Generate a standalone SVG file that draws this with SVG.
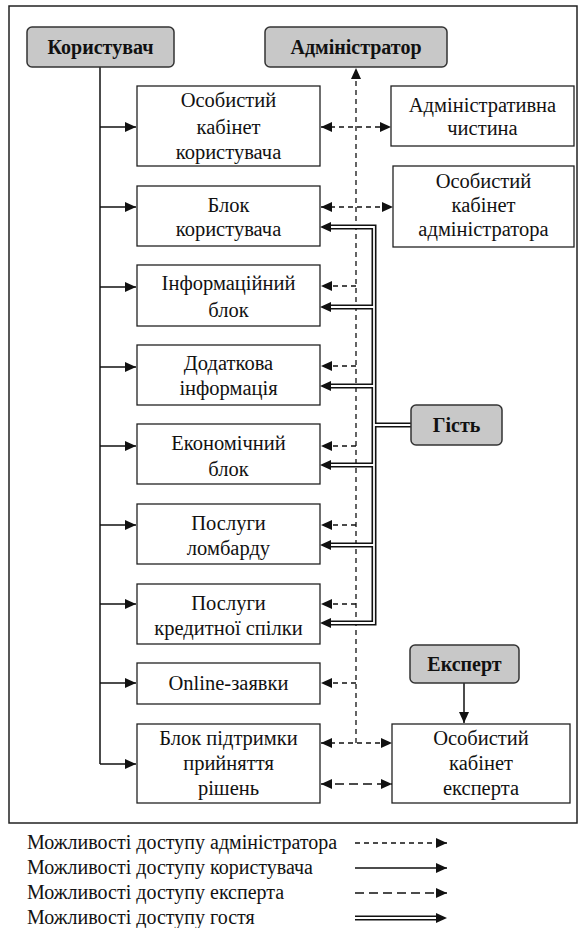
<svg xmlns="http://www.w3.org/2000/svg" width="586" height="928" viewBox="0 0 586 928">
<style>
text{font-family:"Liberation Serif","Times New Roman",serif;font-size:20.5px;fill:#111;text-anchor:middle}
.b{font-weight:bold;font-size:20px}
.box{fill:#fff;stroke:#222;stroke-width:1.3}
.role{fill:#c8c8c8;stroke:#333;stroke-width:1.5}
.u{fill:none;stroke:#111;stroke-width:1.5}
.a{fill:none;stroke:#111;stroke-width:1.3;stroke-dasharray:5 4}
.e{fill:none;stroke:#111;stroke-width:1.5;stroke-dasharray:9 5}
.go{fill:none;stroke:#111;stroke-width:5}
.gi{fill:none;stroke:#fff;stroke-width:1.8}
.lg{text-anchor:start;font-size:20px}
</style>
<defs>
<marker id="ah" markerUnits="userSpaceOnUse" markerWidth="12" markerHeight="10" refX="11" refY="5" orient="auto-start-reverse" viewBox="0 0 12 10"><path d="M0,0 L11,5 L0,10 Z" fill="#111"/></marker>
</defs>
<rect x="9" y="6" width="568" height="817" fill="none" stroke="#222" stroke-width="1.5"/>

<g id="connectors">
<path class="u" d="M100,67 V764"/>
<path class="u" d="M100,127 H136" marker-end="url(#ah)"/>
<path class="u" d="M100,207 H136" marker-end="url(#ah)"/>
<path class="u" d="M100,287 H136" marker-end="url(#ah)"/>
<path class="u" d="M100,367 H136" marker-end="url(#ah)"/>
<path class="u" d="M100,446 H136" marker-end="url(#ah)"/>
<path class="u" d="M100,525 H136" marker-end="url(#ah)"/>
<path class="u" d="M100,604 H136" marker-end="url(#ah)"/>
<path class="u" d="M100,683 H136" marker-end="url(#ah)"/>
<path class="u" d="M100,764 H136" marker-end="url(#ah)"/>
<path class="a" d="M356,743 V68" marker-end="url(#ah)"/>
<path class="a" d="M321,127 H391" marker-start="url(#ah)" marker-end="url(#ah)"/>
<path class="a" d="M321,207 H393" marker-start="url(#ah)" marker-end="url(#ah)"/>
<path class="a" d="M356,286 H321" marker-end="url(#ah)"/>
<path class="a" d="M356,366 H321" marker-end="url(#ah)"/>
<path class="a" d="M356,446 H321" marker-end="url(#ah)"/>
<path class="a" d="M356,525 H321" marker-end="url(#ah)"/>
<path class="a" d="M356,604 H321" marker-end="url(#ah)"/>
<path class="a" d="M356,683 H321" marker-end="url(#ah)"/>
<path class="a" d="M321,743 H392" marker-start="url(#ah)" marker-end="url(#ah)"/>
<path class="u" d="M464,683 V723" marker-end="url(#ah)"/>
<path class="e" d="M321,784 H392" marker-start="url(#ah)" marker-end="url(#ah)"/>
<g>
<path class="go" d="M411,425 H374 M329,227 H374 V623 H329 M329,307 H374 M329,386 H374 M329,465 H374 M329,545 H374"/>
<path class="gi" d="M411,425 H374 M327,227 H374 V623 H327 M327,307 H374 M327,386 H374 M327,465 H374 M327,545 H374"/>
<path d="M320,227 l11,-5 v10 Z M320,307 l11,-5 v10 Z M320,386 l11,-5 v10 Z M320,465 l11,-5 v10 Z M320,545 l11,-5 v10 Z M320,623 l11,-5 v10 Z" fill="#111"/>
</g>
</g>

<g id="koristuvach"><rect class="role" x="27" y="27" width="147" height="40" rx="5"/><text class="b" x="100.5" y="54">Користувач</text></g>
<g id="administrator"><rect class="role" x="265" y="27" width="182" height="40" rx="5"/><text class="b" x="356" y="54">Адміністратор</text></g>
<g id="gist"><rect class="role" x="411" y="405" width="91" height="40" rx="5"/><text class="b" x="456.5" y="432">Гість</text></g>
<g id="ekspert"><rect class="role" x="410" y="645" width="109" height="38" rx="5"/><text class="b" x="464.5" y="671">Експерт</text></g>

<g id="kab-kor"><rect class="box" x="137" y="86" width="183" height="80"/><text x="228.5" y="107">Особистий</text><text x="228.5" y="134">кабінет</text><text x="228.5" y="159">користувача</text></g>
<g id="adm-chast"><rect class="box" x="391" y="86" width="183" height="60"/><text x="482.5" y="112">Адміністративна</text><text x="482.5" y="135">чистина</text></g>
<g id="kab-adm"><rect class="box" x="393" y="166" width="181" height="81"/><text x="483.5" y="188">Особистий</text><text x="483.5" y="212">кабінет</text><text x="483.5" y="236">адміністратора</text></g>
<g id="blok-kor"><rect class="box" x="137" y="186" width="183" height="60"/><text x="228.5" y="212">Блок</text><text x="228.5" y="236">користувача</text></g>
<g id="inf"><rect class="box" x="137" y="265" width="183" height="61"/><text x="228.5" y="290">Інформаційний</text><text x="228.5" y="317">блок</text></g>
<g id="dod"><rect class="box" x="137" y="345" width="183" height="60"/><text x="228.5" y="370">Додаткова</text><text x="228.5" y="395">інформація</text></g>
<g id="ekon"><rect class="box" x="137" y="424" width="183" height="60"/><text x="228.5" y="450">Економічний</text><text x="228.5" y="476">блок</text></g>
<g id="lomb"><rect class="box" x="137" y="504" width="183" height="60"/><text x="228.5" y="530">Послуги</text><text x="228.5" y="555">ломбарду</text></g>
<g id="kred"><rect class="box" x="137" y="584" width="183" height="60"/><text x="228.5" y="610">Послуги</text><text x="228.5" y="635">кредитної спілки</text></g>
<g id="online"><rect class="box" x="137" y="663" width="183" height="41"/><text x="228.5" y="690">Online-заявки</text></g>
<g id="pidtr"><rect class="box" x="137" y="724" width="183" height="79"/><text x="228.5" y="745">Блок підтримки</text><text x="228.5" y="770">прийняття</text><text x="228.5" y="795">рішень</text></g>
<g id="kab-eksp"><rect class="box" x="392" y="724" width="178" height="79"/><text x="481" y="745">Особистий</text><text x="481" y="770">кабінет</text><text x="481" y="795">експерта</text></g>

<g id="legend">
<text class="lg" x="27" y="849">Можливості доступу адміністратора</text>
<text class="lg" x="27" y="874">Можливості доступу користувача</text>
<text class="lg" x="27" y="899">Можливості доступу експерта</text>
<text class="lg" x="27" y="924">Можливості доступу гостя</text>
<path class="a" d="M355,843 H447" stroke-dasharray="4 3.5" marker-end="url(#ah)"/>
<path class="u" d="M355,868 H447" marker-end="url(#ah)"/>
<path class="e" d="M355,893 H447" marker-end="url(#ah)"/>
<path class="go" d="M355,918 H437"/><path class="gi" d="M353,918 H437"/>
<path d="M447,918 l-11,-5 v10 Z" fill="#111"/>
</g>
</svg>
